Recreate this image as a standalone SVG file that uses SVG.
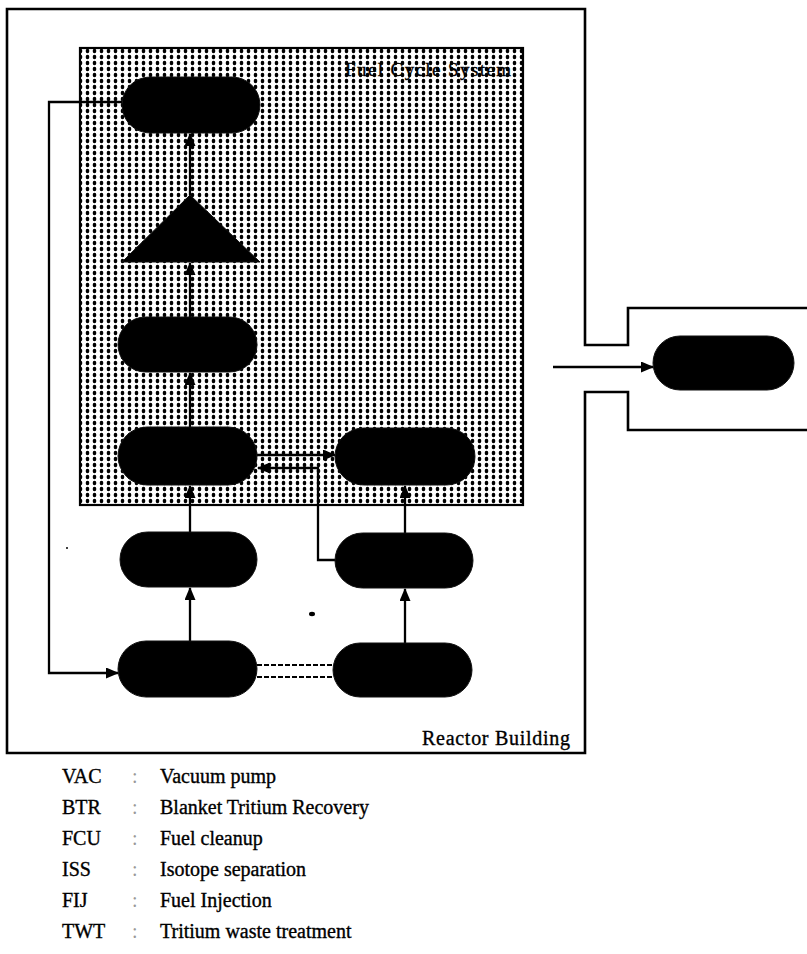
<svg xmlns="http://www.w3.org/2000/svg" width="807" height="954" viewBox="0 0 807 954">
<style>
.ln{fill:none;stroke:#000;stroke-width:2.3}
.bd{fill:none;stroke:#000;stroke-width:2.6}
.nd{fill:#000;stroke:#111;stroke-width:1}
.dash{fill:none;stroke:#000;stroke-width:1.8;stroke-dasharray:5,2}
.tx{font-family:"Liberation Serif","Times New Roman",serif;fill:#000;stroke:#000;stroke-width:0.35}
.lg{font-size:20px}
.cl{fill:#999;stroke:none}
</style>
<defs>
<pattern id="dots" width="7" height="6" patternUnits="userSpaceOnUse">
<rect width="7" height="6" fill="#fff"/>
<ellipse cx="3.5" cy="3" rx="1.8" ry="2.2" fill="#000"/>
</pattern>
<marker id="ah" markerWidth="13" markerHeight="11" refX="12" refY="5.5" orient="auto" markerUnits="userSpaceOnUse">
<path d="M0,0 L13,5.5 L0,11 Z" fill="#000"/>
</marker>
</defs>
<rect width="807" height="954" fill="#fff"/>
<g id="reactor-building">
<path class="bd" d="M807,308 H628 V345 H585 V9 H7 V753 H585 V392 H628 V430 H807"/>
<text class="tx" x="422" y="745" font-size="20" textLength="148">Reactor Building</text>
</g>
<g id="fuel-cycle-system">
<rect x="80" y="48" width="443" height="457" fill="url(#dots)" stroke="#000" stroke-width="2.2"/>
<text class="tx" x="345" y="76" font-size="19" textLength="166" stroke-width="0.5">Fuel Cycle System</text>
</g>
<g id="connectors">
<path class="ln" d="M122,102 H49 V673 H118" marker-end="url(#ah)"/>
<path class="ln" d="M190,195 V134" marker-end="url(#ah)"/>
<path class="ln" d="M190,317 V263" marker-end="url(#ah)"/>
<path class="ln" d="M190,427 V373" marker-end="url(#ah)"/>
<path class="ln" d="M190,532 V486" marker-end="url(#ah)"/>
<path class="ln" d="M190,641 V588" marker-end="url(#ah)"/>
<path class="ln" d="M257,455 H335" marker-end="url(#ah)"/>
<path class="ln" d="M335,560 H318 V468 H258" marker-end="url(#ah)"/>
<path class="ln" d="M405,533 V486" marker-end="url(#ah)"/>
<path class="ln" d="M405,643 V589" marker-end="url(#ah)"/>
<path class="ln" d="M553,367 H653" marker-end="url(#ah)"/>
<path class="dash" d="M257,665 H333 M257,677 H333"/>
</g>
<g id="node-top"><rect class="nd" x="122" y="77" width="138" height="56" rx="28"/></g>
<g id="node-triangle"><polygon class="nd" points="190,195 122,262 260,262"/></g>
<g id="node-3"><rect class="nd" x="118" y="317" width="139" height="55" rx="27.5"/></g>
<g id="node-4"><rect class="nd" x="118" y="427" width="139" height="58" rx="29"/></g>
<g id="node-5"><rect class="nd" x="120" y="532" width="137" height="55" rx="27.5"/></g>
<g id="node-6"><rect class="nd" x="118" y="641" width="139" height="56" rx="28"/></g>
<g id="node-r4"><rect class="nd" x="335" y="428" width="140" height="57" rx="28.5"/></g>
<g id="node-7"><rect class="nd" x="335" y="533" width="138" height="55" rx="27.5"/></g>
<g id="node-8"><rect class="nd" x="333" y="643" width="139" height="54" rx="27"/></g>
<g id="node-twt"><rect class="nd" x="653" y="336" width="141" height="54" rx="27"/></g>
<ellipse cx="312" cy="614" rx="3" ry="2.2" fill="#000"/>
<circle cx="67" cy="548" r="1" fill="#000"/>
<g id="legend" class="tx lg">
<text x="62" y="783">VAC</text><text class="cl" x="132" y="783">:</text><text x="160" y="783">Vacuum pump</text>
<text x="62" y="814">BTR</text><text class="cl" x="132" y="814">:</text><text x="160" y="814">Blanket Tritium Recovery</text>
<text x="62" y="845">FCU</text><text class="cl" x="132" y="845">:</text><text x="160" y="845">Fuel cleanup</text>
<text x="62" y="876">ISS</text><text class="cl" x="132" y="876">:</text><text x="160" y="876">Isotope separation</text>
<text x="62" y="907">FIJ</text><text class="cl" x="132" y="907">:</text><text x="160" y="907">Fuel Injection</text>
<text x="62" y="938">TWT</text><text class="cl" x="132" y="938">:</text><text x="160" y="938">Tritium waste treatment</text>
</g>
</svg>
